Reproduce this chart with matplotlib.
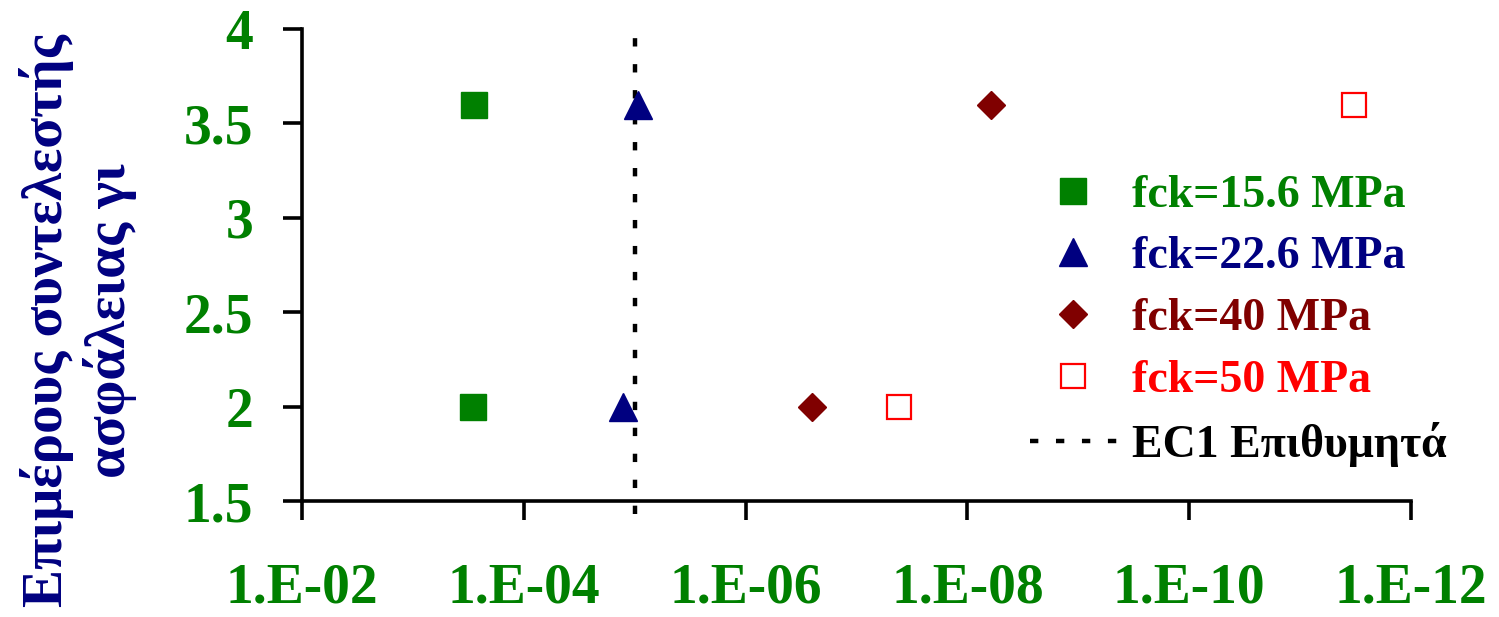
import math
import matplotlib
matplotlib.use("Agg")
import matplotlib.pyplot as plt
from matplotlib.ticker import FixedLocator, FuncFormatter, NullLocator

plt.rcParams['font.family'] = ['Liberation Serif', 'DejaVu Serif']
plt.rcParams['font.weight'] = 'bold'
plt.rcParams['lines.scale_dashes'] = False

# data (probability of failure vs partial safety factor)
gamma_values = [3.6, 2.0]
pf_fck156 = [2.8e-4, 2.85e-4]
pf_fck226 = [9.3e-6, 1.28e-5]
pf_fck40 = [6.1e-9, 2.5e-7]
pf_fck50 = [3.3e-12, 4.1e-8]

ec1_x = [1e-5, 1e-5]
ec1_y = [1.43, 4.02]

x_ticks = [1e-2, 1e-4, 1e-6, 1e-8, 1e-10, 1e-12]
y_ticks = [1.5, 2, 2.5, 3, 3.5, 4]

labels = ["fck=15.6 MPa", "fck=22.6 MPa", "fck=40 MPa", "fck=50 MPa", "EC1 Επιθυμητά"]

GREEN = '#008000'
NAVY = '#000080'
MAROON = '#800000'
RED = '#FF0000'


def main():
    fig = plt.figure(figsize=(14.99, 6.17), dpi=100)
    ax = fig.add_axes([0.2015, 0.188, 0.7398, 0.765])

    ax.plot(pf_fck156, gamma_values, ls='none', marker='s', ms=18.5,
            mfc=GREEN, mec=GREEN, label=labels[0])
    ax.plot(pf_fck226, gamma_values, ls='none', marker='^', ms=20,
            mfc=NAVY, mec=NAVY, label=labels[1])
    ax.plot(pf_fck40, gamma_values, ls='none', marker='D', ms=14,
            mfc=MAROON, mec=MAROON, label=labels[2])
    ax.plot(pf_fck50, gamma_values, ls='none', marker='s', ms=17.5,
            mfc='white', mec=RED, mew=1.6, label=labels[3])
    ax.plot(ec1_x, ec1_y, color='black', lw=3.2, ls=(0, (6, 12.7)),
            clip_on=False, label=labels[4], zorder=1)

    ax.set_xscale('log')
    ax.set_xlim(1e-2, 1e-12)
    ax.set_ylim(1.5, 4)
    ax.xaxis.set_major_locator(FixedLocator(x_ticks))
    ax.xaxis.set_minor_locator(NullLocator())
    ax.xaxis.set_major_formatter(FuncFormatter(lambda v, p: "1.E-%02d" % round(-math.log10(v))))
    ax.yaxis.set_major_locator(FixedLocator(y_ticks))
    ax.yaxis.set_major_formatter(FuncFormatter(lambda v, p: ("%g" % v)))

    for side in ['top', 'right']:
        ax.spines[side].set_visible(False)
    for side in ['left', 'bottom']:
        ax.spines[side].set_linewidth(2.6)

    ax.tick_params(axis='x', direction='out', length=14, width=2.6,
                   labelsize=40, labelcolor=GREEN, pad=30)
    ax.tick_params(axis='y', direction='out', length=14, width=2.6,
                   labelsize=40, labelcolor=GREEN, pad=21)

    fig.text(0.052, 0.481, "Επιμέρους συντελεστής\nασφάλειας γι",
             rotation=90, ha='center', va='center', multialignment='center',
             fontsize=41, color=NAVY, fontweight='bold', linespacing=1.2)

    ax.legend(loc='upper left', bbox_to_anchor=(0.687, 0.717),
              bbox_transform=fig.transFigure, frameon=False,
              fontsize=33, handlelength=1.9, handletextpad=0.33,
              labelspacing=0.43, borderpad=0, borderaxespad=0,
              labelcolor=[GREEN, NAVY, MAROON, RED, 'black'])

    fig.savefig("out.png", dpi=100)


if __name__ == "__main__":
    main()
